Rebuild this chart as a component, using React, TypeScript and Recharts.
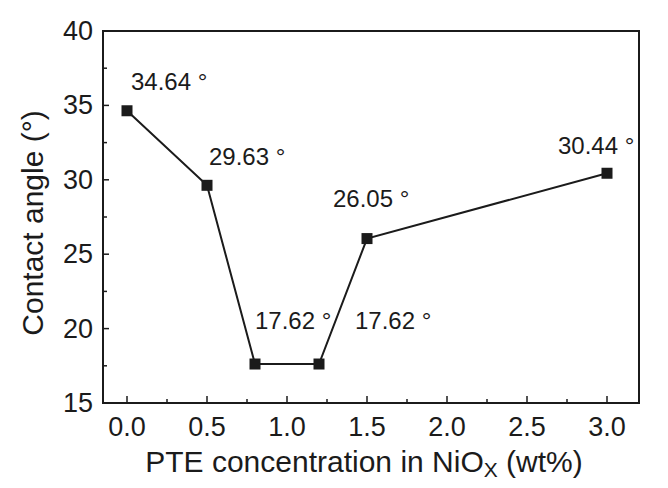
import { LineChart, Line, XAxis, YAxis, ReferenceArea, LabelList, Label } from "recharts";

// PTE concentration (wt%) vs contact angle (deg)
const concentration = [0, 0.5, 0.8, 1.2, 1.5, 3.0];
const contactAngle = [34.64, 29.63, 17.62, 17.62, 26.05, 30.44];
const xTicks = [0, 0.25, 0.5, 0.75, 1, 1.25, 1.5, 1.75, 2, 2.25, 2.5, 2.75, 3];
const yTicks = [15, 17.5, 20, 22.5, 25, 27.5, 30, 32.5, 35, 37.5, 40];

// where each value label sits relative to its marker (px)
const LABEL_OFFSETS = [[4, -29], [2, -29], [0, -44], [36, -44], [-34, -40], [-49, -28]];

const FONT = '"Liberation Sans", Arial, Helvetica, sans-serif';
const INK = "#1b1b1b";

const rows = concentration.map((x, i) => ({ x, y: contactAngle[i] }));
const isMajor = (v: number, step: number) => Math.abs(v / step - Math.round(v / step)) < 1e-6;

function XTick({ x, y, payload }: any) {
  const major = isMajor(payload.value, 0.5);
  return (
    <g>
      <line x1={x} x2={x} y1={y} y2={y - (major ? 7 : 4)} stroke={INK} strokeWidth={1.5} />
      {major ? (
        <text x={x} y={y + 24} textAnchor="middle" dominantBaseline="central"
          fontSize={27} fontFamily={FONT} fill={INK}>{payload.value.toFixed(1)}</text>
      ) : null}
    </g>
  );
}

function YTick({ x, y, payload }: any) {
  const major = isMajor(payload.value, 5);
  return (
    <g>
      <line x1={x} x2={x + (major ? 6 : 4)} y1={y} y2={y} stroke={INK} strokeWidth={1.5} />
      {major ? (
        <text x={x - 10} y={y} textAnchor="end" dominantBaseline="central"
          fontSize={27} fontFamily={FONT} fill={INK}>{payload.value}</text>
      ) : null}
    </g>
  );
}

const Marker = (p: any) => (
  <rect key={`m-${p.index}`} x={p.cx - 5.5} y={p.cy - 5.5} width={11} height={11} fill={INK} />
);

export default function App() {
  return (
    <div style={{ position: "absolute", left: 0, top: 0, background: "#fff" }}>
      <LineChart width={668} height={488} data={rows}
        margin={{ top: 31, right: 29, left: 0, bottom: 0 }}>
        <XAxis dataKey="x" type="number" domain={[-0.15, 3.2]} ticks={xTicks} interval={0}
          allowDataOverflow tick={<XTick />} tickLine={false} tickSize={0} tickMargin={0}
          height={85} axisLine={{ stroke: INK, strokeWidth: 2 }}>
          <Label content={({ viewBox }: any) => (
            <text x={viewBox.x + viewBox.width / 2 - 7} y={viewBox.y + 58} textAnchor="middle"
              dominantBaseline="central" fontSize={30} fontFamily={FONT} fill={INK}>
              PTE concentration in NiO<tspan fontSize={21} dy={8}>X</tspan>
              <tspan dy={-8}> (wt%)</tspan>
            </text>
          )} />
        </XAxis>
        <YAxis type="number" domain={[15, 40]} ticks={yTicks} interval={0} allowDataOverflow
          tick={<YTick />} tickLine={false} tickSize={0} tickMargin={0} width={103}
          axisLine={{ stroke: INK, strokeWidth: 2 }}>
          <Label content={({ viewBox }: any) => {
            const cy = viewBox.y + viewBox.height / 2 + 6;
            return (
              <text x={32} y={cy} transform={`rotate(-90, 32, ${cy})`} textAnchor="middle"
                dominantBaseline="central" fontSize={30} fontFamily={FONT} fill={INK}>
                Contact angle (°)
              </text>
            );
          }} />
        </YAxis>
        <ReferenceArea x1={-0.15} x2={3.2} y1={15} y2={40} fill="none" stroke={INK} strokeWidth={2} />
        <Line type="linear" dataKey="y" stroke={INK} strokeWidth={2} dot={Marker}
          activeDot={false} isAnimationActive={false}>
          <LabelList dataKey="y" content={(p: any) => {
            const [dx, dy] = LABEL_OFFSETS[p.index] || [0, -30];
            return (
              <text x={p.x + dx} y={p.y + dy} textAnchor="start" dominantBaseline="central"
                fontSize={24} fontFamily={FONT} fill={INK}>{`${Number(p.value).toFixed(2)} °`}</text>
            );
          }} />
        </Line>
      </LineChart>
    </div>
  );
}
